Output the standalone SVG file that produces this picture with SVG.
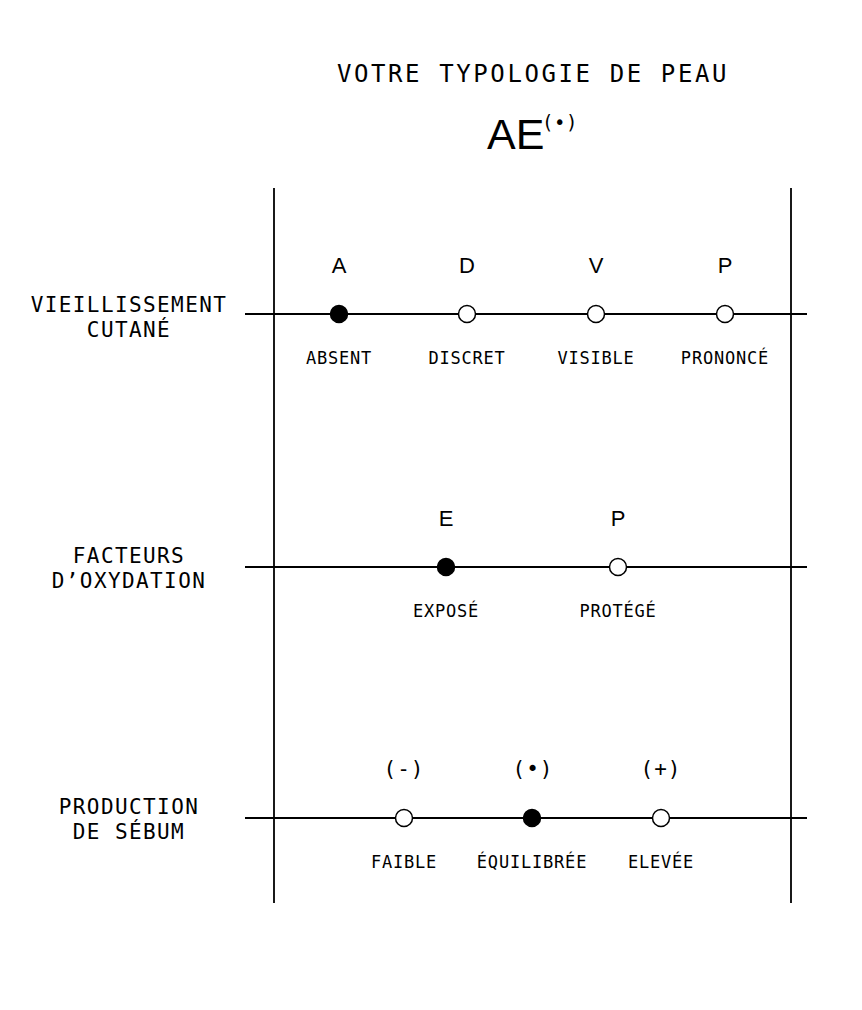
<svg xmlns="http://www.w3.org/2000/svg" width="862" height="1010" viewBox="0 0 862 1010">
<style>
.ln{stroke:#000;stroke-width:1.8;fill:none}
.dot{stroke:#000;stroke-width:1.5}
.on{fill:#000}
.off{fill:#fff}
.mono{font-family:"DejaVu Sans Mono",monospace;fill:#000;text-anchor:middle}
.sans{font-family:"Liberation Sans",Arial,sans-serif;fill:#000;text-anchor:middle}
.title{font-size:24px;letter-spacing:2.6px}
.row{font-size:21px;letter-spacing:1.4px}
.lbl{font-size:17px;letter-spacing:0.8px}
.let{font-size:22px}
.sym{font-size:21px;letter-spacing:1px}
</style>
<rect width="862" height="1010" fill="#fff"/>
<g id="title">
<text class="mono title" x="533" y="82">VOTRE TYPOLOGIE DE PEAU</text>
<text class="sans" x="487" y="149" style="font-size:43px;text-anchor:start">AE</text>
<text class="mono" x="542" y="129" style="font-size:19px;letter-spacing:0.5px;text-anchor:start">(•)</text>
</g>
<g id="connectors">
<line class="ln" x1="274" y1="188" x2="274" y2="903"/>
<line class="ln" x1="791" y1="188" x2="791" y2="903"/>
<line class="ln" x1="245" y1="314" x2="807" y2="314"/>
<line class="ln" x1="245" y1="567" x2="807" y2="567"/>
<line class="ln" x1="245" y1="818" x2="807" y2="818"/>
</g>
<g id="row-vieillissement">
<text class="mono row" x="129" y="312">VIEILLISSEMENT</text>
<text class="mono row" x="129" y="337">CUTANÉ</text>
</g>
<g id="node-absent">
<text class="sans let" x="339" y="273">A</text>
<circle class="dot on" cx="339" cy="314" r="8.5"/>
<text class="mono lbl" x="339" y="364">ABSENT</text>
</g>
<g id="node-discret">
<text class="sans let" x="467" y="273">D</text>
<circle class="dot off" cx="467" cy="314" r="8.5"/>
<text class="mono lbl" x="467" y="364">DISCRET</text>
</g>
<g id="node-visible">
<text class="sans let" x="596" y="273">V</text>
<circle class="dot off" cx="596" cy="314" r="8.5"/>
<text class="mono lbl" x="596" y="364">VISIBLE</text>
</g>
<g id="node-prononce">
<text class="sans let" x="725" y="273">P</text>
<circle class="dot off" cx="725" cy="314" r="8.5"/>
<text class="mono lbl" x="725" y="364">PRONONCÉ</text>
</g>
<g id="row-oxydation">
<text class="mono row" x="129" y="563">FACTEURS</text>
<text class="mono row" x="129" y="588">D’OXYDATION</text>
</g>
<g id="node-expose">
<text class="sans let" x="446" y="526">E</text>
<circle class="dot on" cx="446" cy="567" r="8.5"/>
<text class="mono lbl" x="446" y="617">EXPOSÉ</text>
</g>
<g id="node-protege">
<text class="sans let" x="618" y="526">P</text>
<circle class="dot off" cx="618" cy="567" r="8.5"/>
<text class="mono lbl" x="618" y="617">PROTÉGÉ</text>
</g>
<g id="row-sebum">
<text class="mono row" x="129" y="814">PRODUCTION</text>
<text class="mono row" x="129" y="839">DE SÉBUM</text>
</g>
<g id="node-faible">
<text class="mono sym" x="404" y="776">(-)</text>
<circle class="dot off" cx="404" cy="818" r="8.5"/>
<text class="mono lbl" x="404" y="868">FAIBLE</text>
</g>
<g id="node-equilibree">
<text class="mono sym" x="533" y="776">(•)</text>
<circle class="dot on" cx="532" cy="818" r="8.5"/>
<text class="mono lbl" x="532" y="868">ÉQUILIBRÉE</text>
</g>
<g id="node-elevee">
<text class="mono sym" x="661" y="776">(+)</text>
<circle class="dot off" cx="661" cy="818" r="8.5"/>
<text class="mono lbl" x="661" y="868">ELEVÉE</text>
</g>
</svg>
